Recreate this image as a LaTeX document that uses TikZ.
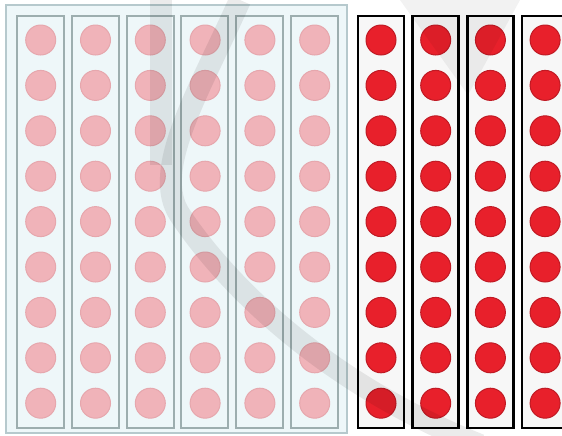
\documentclass[tikz,border=0pt]{standalone}
\usepackage{xcolor}
\usepackage{tikz}
\definecolor{trayedge}{HTML}{B6C9CD}
\definecolor{trayfill}{HTML}{EEF7F9}
\definecolor{stripedge}{HTML}{9DAEAF}
\definecolor{pinkfill}{HTML}{F0B3B9}
\definecolor{pinkedge}{HTML}{E6A7AD}
\definecolor{redfill}{HTML}{E8202B}
\definecolor{rededge}{HTML}{C01A24}
\tikzset{
  trayframe/.style={fill=trayfill, draw=trayedge, line width=1.2pt},
  stripold/.style={fill=trayfill, draw=stripedge, line width=1pt},
  stripnew/.style={fill=black!3, draw=black, line width=1.3pt},
  dotold/.style={circle, fill=pinkfill, draw=pinkedge, line width=0.5pt, minimum size=15pt, inner sep=0pt},
  dotnew/.style={circle, fill=redfill, draw=rededge, line width=0.5pt, minimum size=15pt, inner sep=0pt},
  wmark/.style={draw=black, opacity=0.08, line width=11pt, line cap=butt},
  wmarkfill/.style={fill=black, opacity=0.05},
}

\begin{document}
\begin{tikzpicture}[x=0.5pt, y=-0.5pt]
\useasboundingbox (0,0) rectangle (562,435);
\clip (0,0) rectangle (562,435);
\fill[white] (0,0) rectangle (562,435);
% left tray
\draw[trayframe] (6,5) rectangle (347,433);
\foreach \c in {0,...,5} {
  \draw[stripold] ({17+54.8*\c},16) rectangle ({64+54.8*\c},428);
  \foreach \r in {0,...,8}
    \node[dotold] (old-\c-\r) at ({40.7+54.8*\c},{40+45.4*\r}) {};
}
% right strips
\foreach \c in {0,...,3} {
  \draw[stripnew] ({358+54.7*\c},16) rectangle ({404+54.7*\c},428);
  \foreach \r in {0,...,8}
    \node[dotnew] (new-\c-\r) at ({381+54.7*\c},{40+45.4*\r}) {};
}
% watermark
\fill[wmarkfill] (400,0) -- (520,0) -- (468,95) -- cycle;
\draw[wmark] (161,0) -- (161,165);
\draw[wmark] (240,0) .. controls (200,90) and (150,170) .. (180,215)
  .. controls (230,290) and (330,385) .. (480,445);
\end{tikzpicture}
\end{document}
